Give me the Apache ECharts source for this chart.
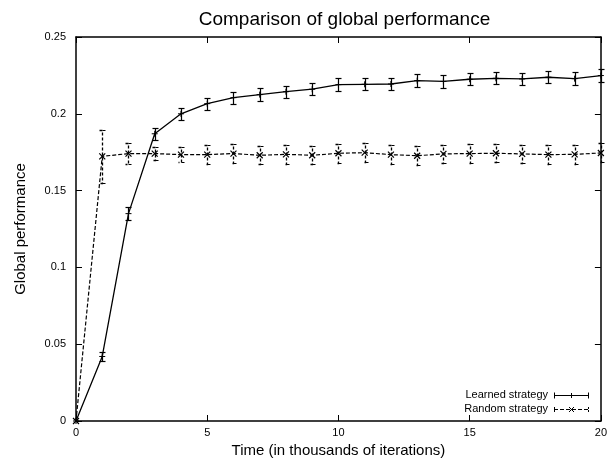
<!DOCTYPE html>
<html>
<head>
<meta charset="utf-8">
<script src="https://cdn.jsdelivr.net/npm/echarts@6/dist/echarts.min.js"></script>
<style>html,body{margin:0;padding:0;background:#fff}#c{width:610px;height:464px}</style>
</head>
<body>
<div id="c"></div>
<script>
var xs = [0,1,2,3,4,5,6,7,8,9,10,11,12,13,14,15,16,17,18,19,20];
var learned = [0, 0.042, 0.135, 0.187, 0.200, 0.2066, 0.2105, 0.2125, 0.2144, 0.216, 0.219, 0.2192, 0.2194, 0.2216, 0.2211, 0.2225, 0.2231, 0.2227, 0.2238, 0.2229, 0.2249];
var learnedErr = [0, 0.0028, 0.004, 0.004, 0.004, 0.004, 0.004, 0.004, 0.004, 0.004, 0.004, 0.004, 0.004, 0.004, 0.004, 0.004, 0.004, 0.004, 0.004, 0.004, 0.004];
var random = [0, 0.1723, 0.1741, 0.1741, 0.1734, 0.1734, 0.1741, 0.173, 0.1736, 0.173, 0.1743, 0.1747, 0.1734, 0.1727, 0.1739, 0.1741, 0.1743, 0.1739, 0.1734, 0.1736, 0.1745];
var randomErr = [0, 0.0174, 0.0066, 0.0045, 0.005, 0.006, 0.0062, 0.006, 0.006, 0.006, 0.0062, 0.0062, 0.006, 0.0062, 0.006, 0.006, 0.006, 0.006, 0.006, 0.006, 0.0062];
var xTicks = [0, 5, 10, 15, 20];
var yTicks = [0, 0.05, 0.1, 0.15, 0.2, 0.25];

var FONT = 'Liberation Sans, Arial, sans-serif';

function zip(a, b, e) {
  return xs.map(function (x, i) { return e ? [x, a[i], e[i]] : [x, a[i]]; });
}

function errRender(dashed) {
  return function (params, api) {
    var x = api.value(0), y = api.value(1), e = api.value(2);
    if (!e) return null;
    var t = api.coord([x, y + e]), b = api.coord([x, y - e]);
    var px = Math.round(t[0]) + 0.5;
    var ty = Math.round(t[1]) + 0.5, by = Math.round(b[1]) + 0.5;
    var w = 3;
    if (dashed) {
      var s = { stroke: '#000', lineWidth: 1.3, fill: null, lineDash: [3, 2] };
      return {
        type: 'group',
        children: [
          { type: 'polyline', shape: { points: [[px - w, ty], [px, ty], [px, by], [px - w, by]] }, style: s },
          { type: 'line', shape: { x1: px, y1: ty, x2: px + w, y2: ty }, style: { stroke: '#000', lineWidth: 1 } },
          { type: 'line', shape: { x1: px, y1: by, x2: px + w, y2: by }, style: { stroke: '#000', lineWidth: 1 } }
        ]
      };
    }
    var style = { stroke: '#000', lineWidth: 1.2, fill: null };
    return {
      type: 'group',
      children: [
        { type: 'line', shape: { x1: px, y1: ty, x2: px, y2: by }, style: style },
        { type: 'line', shape: { x1: px - w, y1: ty, x2: px + w, y2: ty }, style: style },
        { type: 'line', shape: { x1: px - w, y1: by, x2: px + w, y2: by }, style: style }
      ]
    };
  };
}

var plusPath = 'path://M5,0L5,10M0,5L10,5';
var crossPath = 'path://M0,0L10,10M10,0L0,10';

var chart = echarts.init(document.getElementById('c'));
var axisCommon = {
  axisLine: { show: true, onZero: false, lineStyle: { color: '#000', width: 1.5 } },
  axisTick: { show: true, inside: true, length: 6, lineStyle: { color: '#000', width: 1 } },
  splitLine: { show: false }
};
chart.setOption({
  animation: false,
  backgroundColor: '#fff',
  title: {
    text: 'Comparison of global performance',
    left: 339.5, textAlign: 'center', top: 5,
    textStyle: { fontFamily: FONT, fontSize: 19, fontWeight: 'normal', color: '#000' }
  },
  grid: { left: 76, right: 7, top: 37, bottom: 43 },
  xAxis: [
    Object.assign({
      type: 'value', min: 0, max: 20, interval: 5, position: 'bottom',
      name: 'Time (in thousands of iterations)', nameLocation: 'middle', nameGap: 22,
      nameTextStyle: { fontFamily: FONT, fontSize: 15, color: '#000' },
      axisLabel: { fontFamily: FONT, fontSize: 11, color: '#000', margin: 6 }
    }, axisCommon),
    Object.assign({
      type: 'value', min: 0, max: 20, interval: 5, position: 'top',
      axisLabel: { show: false }
    }, axisCommon)
  ],
  yAxis: [
    Object.assign({
      type: 'value', min: 0, max: 0.25, interval: 0.05, position: 'left',
      name: 'Global performance', nameLocation: 'middle', nameGap: 48,
      nameTextStyle: { fontFamily: FONT, fontSize: 15, color: '#000' },
      axisLabel: { fontFamily: FONT, fontSize: 11, color: '#000', margin: 10,
        formatter: function (v) { return String(+v.toFixed(2)); } }
    }, axisCommon),
    Object.assign({
      type: 'value', min: 0, max: 0.25, interval: 0.05, position: 'right',
      axisLabel: { show: false }
    }, axisCommon)
  ],
  series: [
    {
      name: 'Learned strategy', type: 'line', data: zip(learned),
      symbol: plusPath, symbolSize: 6,
      itemStyle: { color: 'rgba(0,0,0,0)', borderColor: '#000', borderWidth: 1 },
      lineStyle: { color: '#000', width: 1.3 }, z: 3
    },
    {
      type: 'custom', data: zip(learned, null, learnedErr), renderItem: errRender(false), z: 4
    },
    {
      name: 'Random strategy', type: 'line', data: zip(random),
      symbol: crossPath, symbolSize: 6,
      itemStyle: { color: 'rgba(0,0,0,0)', borderColor: '#000', borderWidth: 1.2 },
      lineStyle: { color: '#000', width: 1.2, type: [4, 2] }, z: 3
    },
    {
      type: 'custom', data: zip(random, null, randomErr), renderItem: errRender(true), z: 4
    }
  ],
  graphic: [
    { type: 'text', right: 610 - 548, top: 389, style: { text: 'Learned strategy', font: '11px ' + FONT, fill: '#000', textAlign: 'right' } },
    { type: 'text', right: 610 - 548, top: 403, style: { text: 'Random strategy', font: '11px ' + FONT, fill: '#000', textAlign: 'right' } },
    { type: 'line', shape: { x1: 554, y1: 395.5, x2: 589, y2: 395.5 }, style: { stroke: '#000', lineWidth: 1.2 } },
    { type: 'line', shape: { x1: 554.5, y1: 392.5, x2: 554.5, y2: 398.5 }, style: { stroke: '#000', lineWidth: 1 } },
    { type: 'line', shape: { x1: 588.5, y1: 392.5, x2: 588.5, y2: 398.5 }, style: { stroke: '#000', lineWidth: 1 } },
    { type: 'line', shape: { x1: 571.5, y1: 393, x2: 571.5, y2: 398 }, style: { stroke: '#000', lineWidth: 1 } },
    { type: 'line', shape: { x1: 554, y1: 409.5, x2: 589, y2: 409.5 }, style: { stroke: '#000', lineWidth: 1.2, lineDash: [4, 2] } },
    { type: 'line', shape: { x1: 554.5, y1: 407, x2: 554.5, y2: 412 }, style: { stroke: '#000', lineWidth: 1, lineDash: [2, 1] } },
    { type: 'line', shape: { x1: 588.5, y1: 407, x2: 588.5, y2: 412 }, style: { stroke: '#000', lineWidth: 1, lineDash: [2, 1] } },
    { type: 'line', shape: { x1: 569, y1: 407, x2: 574, y2: 412 }, style: { stroke: '#000', lineWidth: 1 } },
    { type: 'line', shape: { x1: 574, y1: 407, x2: 569, y2: 412 }, style: { stroke: '#000', lineWidth: 1 } }
  ]
});
</script>
</body>
</html>
